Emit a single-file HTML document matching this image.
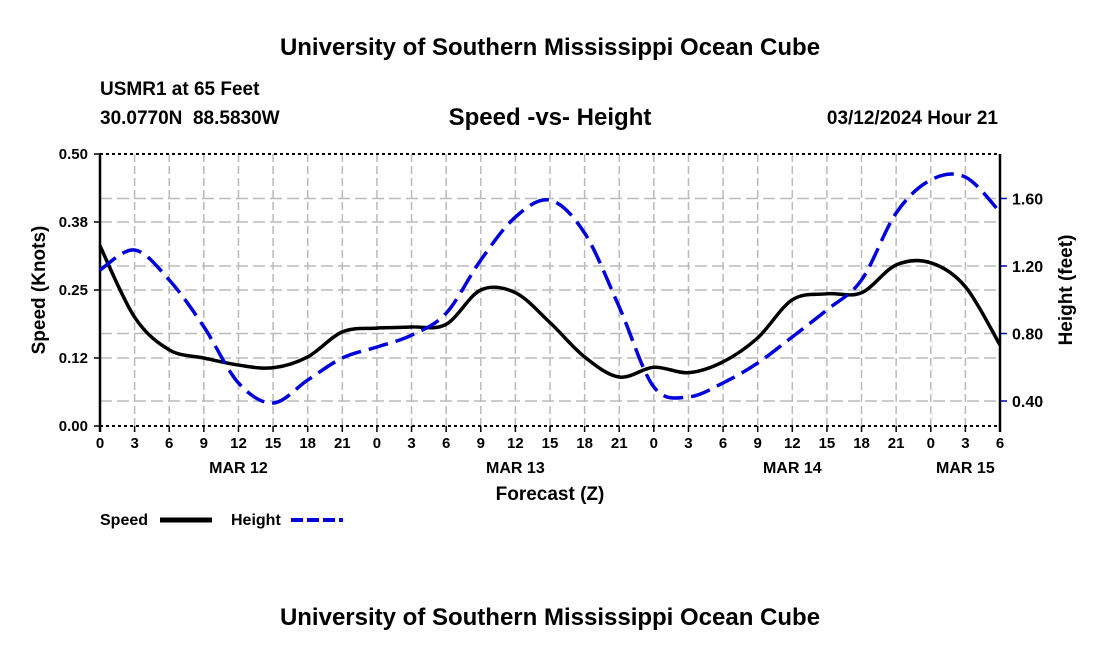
<!DOCTYPE html>
<html><head><meta charset="utf-8"><style>
body{margin:0;background:#fff;font-family:"Liberation Sans",sans-serif;}
svg text{font-family:"Liberation Sans",sans-serif;font-weight:bold;fill:#000;white-space:pre;}
</style></head><body>
<svg id="chart" width="1100" height="650">
<text x="550" y="55" font-size="24" text-anchor="middle">University of Southern Mississippi Ocean Cube</text>
<text x="100" y="95" font-size="19">USMR1 at 65 Feet</text>
<text x="100" y="124" font-size="19">30.0770N  88.5830W</text>
<text x="550" y="125" font-size="24" text-anchor="middle">Speed -vs- Height</text>
<text x="998" y="124" font-size="19" text-anchor="end">03/12/2024 Hour 21</text>
<g id="grid"></g>
<g id="axes"></g>
<g id="series"></g>
<text x="45" y="290" font-size="19" text-anchor="middle" transform="rotate(-90 45 290)">Speed (Knots)</text>
<text x="1072" y="290" font-size="19" text-anchor="middle" transform="rotate(-90 1072 290)">Height (feet)</text>
<text x="550" y="500" font-size="19" text-anchor="middle">Forecast (Z)</text>
<g>
<text x="100" y="525" font-size="16">Speed</text>
<line x1="160" y1="520" x2="212" y2="520" stroke="#000" stroke-width="5"/>
<text x="231" y="525" font-size="16">Height</text>
<line x1="291" y1="520" x2="343" y2="520" stroke="#0000dd" stroke-width="4" stroke-dasharray="12,4"/>
</g>
<text x="550" y="625" font-size="24" text-anchor="middle">University of Southern Mississippi Ocean Cube</text>
</svg>
<script>
const hourLabels=["0","3","6","9","12","15","18","21","0","3","6","9","12","15","18","21","0","3","6","9","12","15","18","21","0","3","6"];
const dayLabels=["MAR 12","MAR 13","MAR 14","MAR 15"];
const dayIndex=[4,12,20,25];
const speedTicks=[0,0.125,0.25,0.375,0.5];
const speedTickLabels=["0.00","0.12","0.25","0.38","0.50"];
const heightTicks=[0.4,0.8,1.2,1.6];
const heightTickLabels=["0.40","0.80","1.20","1.60"];
const speedValues=[0.331,0.2,0.14,0.125,0.112,0.107,0.127,0.173,0.18,0.182,0.187,0.25,0.245,0.19,0.127,0.09,0.108,0.098,0.118,0.162,0.232,0.243,0.245,0.296,0.3,0.256,0.149];
const heightValues=[1.176,1.295,1.117,0.84,0.507,0.388,0.524,0.655,0.72,0.79,0.92,1.235,1.49,1.59,1.395,0.957,0.483,0.424,0.507,0.625,0.78,0.94,1.117,1.514,1.71,1.727,1.52];
const L=100,R=1000,T=154,B=426,NS="http://www.w3.org/2000/svg";
const xs=i=>L+(R-L)*i/(hourLabels.length-1);
const ys=v=>B-(B-T)*v/0.5;
const yh=v=>401-(v-0.4)*168.75;
function mk(p,tag,a){const e=document.createElementNS(NS,tag);for(const k in a)e.setAttribute(k,a[k]);p.appendChild(e);return e;}
const grid=document.getElementById('grid'),axes=document.getElementById('axes'),ser=document.getElementById('series');
hourLabels.forEach((h,i)=>{
  const x=xs(i);
  if(i>0&&i<hourLabels.length-1){const g=mk(grid,'line',{x1:x,y1:T,x2:x,y2:B,stroke:'#bbb','stroke-width':1.5,'stroke-dasharray':'8,4'});
  
  }
  const t=mk(axes,'line',{x1:x,y1:B,x2:x,y2:B+6,stroke:'#000','stroke-width':1.5});
  
  
  const l=mk(axes,'text',{x:x,y:B+22,'font-size':15,'text-anchor':'middle'});l.textContent=h;
  
  
});
dayLabels.forEach((d,k)=>{const l=mk(axes,'text',{x:xs(dayIndex[k]),y:B+47,'font-size':16,'text-anchor':'middle'});l.textContent=d;
  
  });
speedTicks.forEach((v,k)=>{const y=ys(v);
  if(k>0&&k<speedTicks.length-1){const g=mk(grid,'line',{x1:L,y1:y,x2:R,y2:y,stroke:'#bbb','stroke-width':1.5,'stroke-dasharray':'12,5'});
  
  }
  const t=mk(axes,'line',{x1:L-6,y1:y,x2:L,y2:y,stroke:'#000','stroke-width':1.5});
  
  
  const l=mk(axes,'text',{x:L-12,y:y+5,'font-size':15,'text-anchor':'end'});l.textContent=speedTickLabels[k];
  
  });
heightTicks.forEach((v,k)=>{const y=yh(v);
  const g=mk(grid,'line',{x1:L,y1:y,x2:R,y2:y,stroke:'#bbb','stroke-width':1.5,'stroke-dasharray':'12,5'});
  
  
  const t=mk(axes,'line',{x1:R,y1:y,x2:R+7,y2:y,stroke:'#0000cc','stroke-width':1.5});
  
  
  const l=mk(axes,'text',{x:R+12,y:y+6,'font-size':16});l.textContent=heightTickLabels[k];
  
  });
[T,B].forEach(y=>{const b=mk(axes,'line',{x1:L,y1:y,x2:R,y2:y,stroke:'#000','stroke-width':2,'stroke-dasharray':'3,3'});
  
  });
[L,R].forEach(x=>{const b=mk(axes,'line',{x1:x,y1:T,x2:x,y2:B+6,stroke:'#000','stroke-width':2.5});
  
  });
function smooth(pts){let d=`M${pts[0][0]},${pts[0][1]}`;
  for(let i=0;i<pts.length-1;i++){const p0=pts[i-1]||pts[i],p1=pts[i],p2=pts[i+1],p3=pts[i+2]||p2;
    d+=` C${p1[0]+(p2[0]-p0[0])/6},${p1[1]+(p2[1]-p0[1])/6} ${p2[0]-(p3[0]-p1[0])/6},${p2[1]-(p3[1]-p1[1])/6} ${p2[0]},${p2[1]}`;}
  return d;}
const sp=mk(ser,'path',{d:smooth(speedValues.map((v,i)=>[xs(i),ys(v)])),fill:'none',stroke:'#000','stroke-width':3.5});


const hp=mk(ser,'path',{d:smooth(heightValues.map((v,i)=>[xs(i),yh(v)])),fill:'none',stroke:'#0000dd','stroke-width':3.5,'stroke-dasharray':'20,8'});


</script>
</body></html>
